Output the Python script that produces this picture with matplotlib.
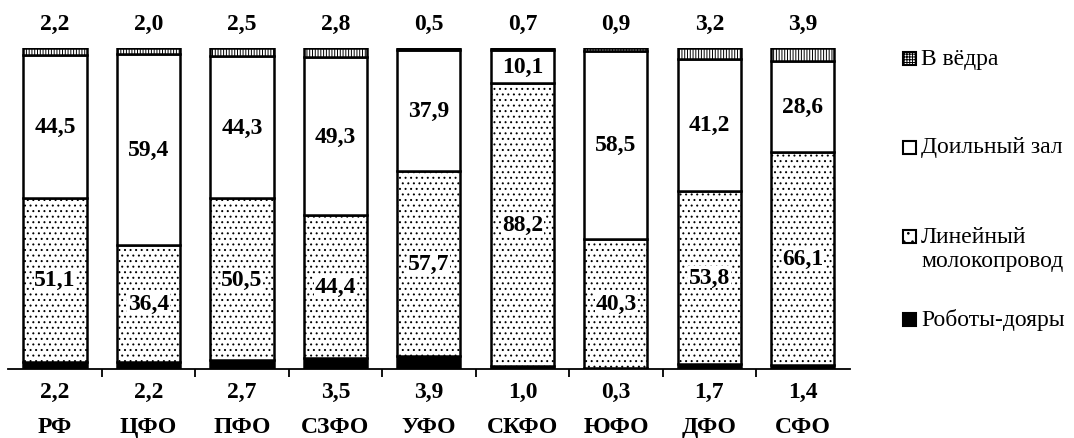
import numpy as np
import matplotlib
matplotlib.use("Agg")
import matplotlib.pyplot as plt
from matplotlib.patches import Rectangle

plt.rcParams["font.family"] = ["Liberation Serif", "DejaVu Serif"]
plt.rcParams["hatch.linewidth"] = 0.7

# data (shares, %)
regions = ["РФ", "ЦФО", "ПФО", "СЗФО", "УФО", "СКФО", "ЮФО", "ДФО", "СФО"]
robots = [2.2, 2.2, 2.7, 3.5, 3.9, 1.0, 0.3, 1.7, 1.4]
linear = [51.1, 36.4, 50.5, 44.4, 57.7, 88.2, 40.3, 53.8, 66.1]
parlor = [44.5, 59.4, 44.3, 49.3, 37.9, 10.1, 58.5, 41.2, 28.6]
buckets = [2.2, 2.0, 2.5, 2.8, 0.5, 0.7, 0.9, 3.2, 3.9]
legend_labels = ["В вёдра", "Доильный зал", "Линейный\nмолокопровод", "Роботы-дояры"]


def fmt(v):
    return ("%.1f" % v).replace(".", ",")


W, H = 1074, 439
fig = plt.figure(figsize=(W / 100, H / 100), dpi=100)
ax = fig.add_axes([8.3 / W, 1 - 370 / H, 841.3 / W, 321 / H])

x = np.arange(len(regions))
bw = 0.675
lw = 1.8

robots = np.array(robots)
linear = np.array(linear)
parlor = np.array(parlor)
buckets = np.array(buckets)

ax.bar(x, robots, bw, color="black", edgecolor="black", linewidth=lw)
ax.bar(x, linear, bw, bottom=robots, color="white", edgecolor="black",
       hatch="...", linewidth=lw)
ax.bar(x, parlor, bw, bottom=robots + linear, color="white", edgecolor="black",
       linewidth=lw)
ax.bar(x, buckets, bw, bottom=robots + linear + parlor, color="white",
       edgecolor="black", hatch="||||||", linewidth=lw)

bold = dict(fontsize=17, fontweight="bold", ha="center", va="center")
for i in x:
    ax.text(i, robots[i] + linear[i] / 2, fmt(linear[i]),
            bbox=dict(facecolor="white", edgecolor="none", pad=0.5), **bold)
    ax.text(i, robots[i] + linear[i] + parlor[i] / 2, fmt(parlor[i]), **bold)
    ax.text(i, 107.5, fmt(buckets[i]), clip_on=False, **bold)
    ax.text(i, -6.9, fmt(robots[i]), clip_on=False, **bold)
    ax.text(i, -17.8, regions[i], clip_on=False, **bold)

ax.set_xlim(-0.5, len(regions) - 0.5)
ax.set_ylim(0, 100)
for s in ["top", "right", "left"]:
    ax.spines[s].set_visible(False)
ax.spines["bottom"].set_linewidth(1.3)
ax.set_yticks([])
ax.set_xticks(x[:-1] + 0.5)
ax.set_xticklabels([])
ax.tick_params(axis="x", direction="out", length=6, width=1.3)

# legend drawn by hand
sq = 13
styles = [dict(facecolor="white", hatch="++++++"),
          dict(facecolor="white"),
          dict(facecolor="white", hatch=".."),
          dict(facecolor="black")]
ys = [59, 148, 237, 320]
text_ys = [59, 148, 249.5, 320]
for lab, st, y, ty in zip(legend_labels, styles, ys, text_ys):
    fig.add_artist(Rectangle((903 / W, 1 - (y + sq / 2) / H), sq / W, sq / H,
                             transform=fig.transFigure, edgecolor="black",
                             linewidth=1.5, **st))
    fig.text(921 / W, 1 - ty / H, lab, fontsize=17, ha="left", va="center",
             linespacing=1.2)

fig.savefig("out.png", dpi=100)
